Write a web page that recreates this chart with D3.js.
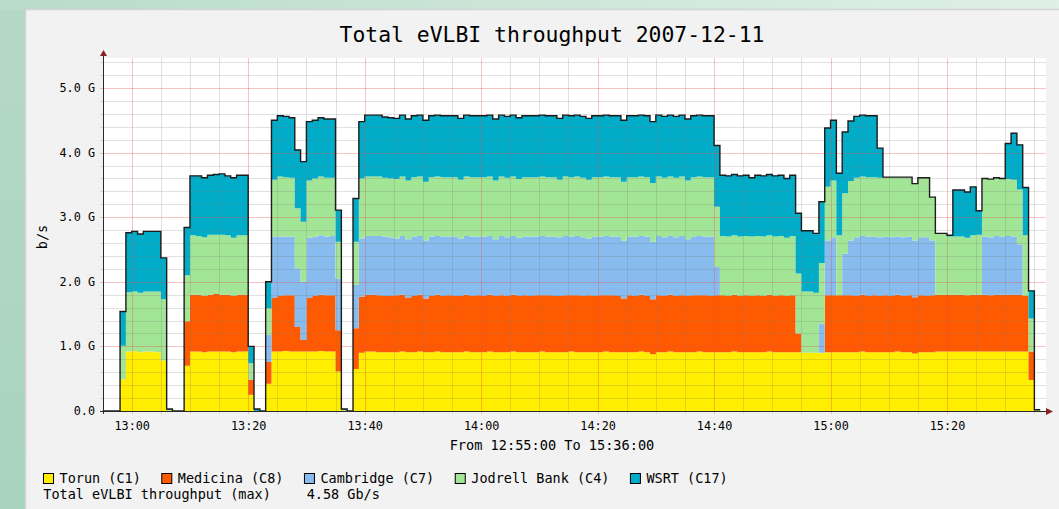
<!DOCTYPE html>
<html><head><meta charset="utf-8">
<script src="https://cdn.jsdelivr.net/npm/d3@7"></script>
<style>
html,body{margin:0;padding:0;background:#b7dcca;}
svg{display:block;}
text{font-family:"DejaVu Sans Mono",monospace;fill:#000;}
</style></head>
<body>
<svg id="chart" width="1059" height="509"></svg>
<script>
// ---- data (one value per minute, starting 12:55) ----
const startTime = new Date(2007, 11, 11, 12, 55);
const endTime = new Date(2007, 11, 11, 15, 36);
const seriesNames = ["Torun (C1)", "Medicina (C8)", "Cambridge (C7)", "Jodrell Bank (C4)", "WSRT (C17)"];
const seriesColors = ["#ffee00", "#ff5a00", "#88bbee", "#a2e596", "#00acc8"];
const yTickLabels = ["0.0", "1.0 G", "2.0 G", "3.0 G", "4.0 G", "5.0 G"];
const xTickLabels = ["13:00", "13:20", "13:40", "14:00", "14:20", "14:40", "15:00", "15:20"];

const torun = [
  0, 0, 0, .49, .92, .93, .91, .92, .92, .91,
  .78, .01, 0, 0, .70, .92, .92, .91, .92, .92,
  .92, .92, .91, .92, .92, .25, 0, 0, .42, .92,
  .92, .93, .92, .92, .92, .92, .92, .93, .92, .92,
  .61, .01, 0, .65, .90, .92, .92, .91, .91, .91,
  .91, .92, .91, .91, .92, .91, .91, .92, .91, .91,
  .91, .91, .92, .91, .91, .91, .92, .91, .91, .91,
  .92, .91, .91, .91, .91, .92, .91, .91, .91, .91,
  .92, .91, .91, .91, .91, .91, .92, .91, .91, .91,
  .91, .91, .92, .91, .88, .91, .91, .92, .91, .91,
  .91, .91, .92, .91, .91, .91, .91, .91, .92, .91,
  .91, .91, .91, .91, .92, .91, .91, .91, .91, .91,
  .90, .90, .90, .90, .91, .91, .91, .91, .91, .91,
  .92, .91, .91, .91, .91, .91, .92, .91, .91, .89,
  .91, .91, .91, .92, .92, .92, .92, .92, .92, .92,
  .92, .92, .92, .92, .92, .92, .92, .92, .92, .48,
  .01
];
const medicina = [
  0, 0, 0, 0, 0, 0, 0, 0, 0, 0,
  0, 0, 0, 0, .69, .88, .88, .87, .88, .89,
  .88, .88, .87, .88, .88, .23, 0, 0, .34, .83,
  .86, .86, .87, .38, .18, .83, .86, .87, .87, .87,
  .64, 0, 0, .63, .87, .88, .88, .88, .87, .87,
  .88, .88, .84, .87, .88, .83, .87, .88, .87, .88,
  .87, .87, .88, .87, .88, .87, .88, .87, .88, .87,
  .88, .87, .88, .87, .88, .87, .88, .87, .87, .88,
  .87, .88, .87, .88, .87, .88, .87, .88, .87, .83,
  .88, .87, .88, .87, .85, .88, .87, .88, .87, .88,
  .87, .88, .87, .88, .87, .88, .88, .87, .88, .87,
  .88, .87, .88, .87, .88, .87, .88, .87, .88, .29,
  0, 0, 0, 0, .88, .88, .88, .88, .88, .87,
  .88, .87, .88, .87, .88, .87, .88, .87, .88, .87,
  .88, .87, .88, .88, .88, .88, .88, .88, .87, .88,
  .88, .88, .87, .88, .88, .88, .88, .88, .86, .44,
  0
];
const cambridge = [
  0, 0, 0, 0, 0, 0, 0, 0, 0, 0,
  0, 0, 0, 0, 0, 0, 0, 0, 0, 0,
  0, 0, 0, 0, 0, 0, 0, 0, .42, .95,
  .92, .91, .91, .91, .90, .93, .92, .92, .91, .92,
  .80, 0, 0, .67, .90, .91, .91, .92, .92, .91,
  .88, .91, .91, .92, .91, .90, .92, .91, .92, .91,
  .92, .89, .91, .92, .91, .92, .91, .88, .92, .91,
  .91, .90, .91, .92, .91, .92, .91, .92, .91, .92,
  .91, .92, .91, .88, .92, .91, .92, .91, .92, .90,
  .91, .92, .91, .92, .89, .92, .91, .91, .91, .92,
  .88, .91, .92, .91, .92, .44, 0, 0, 0, 0,
  0, 0, 0, 0, 0, 0, 0, 0, 0, 0,
  0, 0, 0, .45, .85, .90, 0, .65, .85, .91,
  .91, .92, .91, .91, .91, .91, .90, .91, .91, .88,
  .90, .91, .85, 0, 0, 0, 0, 0, 0, 0,
  0, .90, .90, .91, .90, .91, .90, .78, 0, 0,
  0
];
const jodrell = [
  0, 0, 0, .52, .92, .92, .92, .93, .93, .94,
  .95, 0, 0, 0, .71, .92, .91, .91, .93, .92,
  .93, .92, .90, .92, .92, .26, 0, 0, .41, .88,
  .93, .92, .91, .93, .93, .89, .90, .91, .91, .90,
  .57, 0, 0, .67, .93, .92, .92, .92, .91, .91,
  .92, .92, .91, .92, .92, .91, .92, .92, .92, .92,
  .92, .91, .92, .92, .92, .92, .92, .91, .92, .92,
  .92, .91, .92, .92, .92, .92, .92, .92, .89, .92,
  .92, .92, .92, .91, .92, .92, .92, .92, .92, .91,
  .92, .92, .92, .92, .91, .92, .92, .92, .92, .92,
  .91, .92, .92, .92, .92, .93, .92, .92, .92, .92,
  .92, .92, .92, .92, .92, .92, .92, .90, .92, .93,
  .95, .95, .93, .94, .83, .88, .93, .93, .92, .92,
  .92, .92, .92, .92, .92, .93, .92, .93, .92, .88,
  .92, .92, .67, .95, .95, .90, .90, .90, .89, .92,
  .93, .90, .90, .90, .90, .88, .88, .85, .94, .51,
  0
];
const wsrt = [
  0, 0, 0, .53, .92, .93, .91, .93, .93, .93,
  .64, .02, 0, 0, .74, .92, .93, .92, .92, .93,
  .94, .92, .93, .93, .93, .26, .03, 0, .41, .92,
  .94, .94, .93, .90, .93, .91, .90, .91, .91, .91,
  .49, .02, 0, .67, .88, .95, .95, .95, .94, .94,
  .94, .95, .95, .95, .95, .95, .95, .95, .95, .95,
  .95, .95, .95, .95, .95, .95, .95, .95, .95, .95,
  .95, .95, .95, .95, .95, .95, .95, .95, .95, .95,
  .95, .95, .95, .95, .95, .95, .95, .95, .95, .95,
  .95, .95, .95, .95, .95, .95, .95, .95, .95, .95,
  .95, .95, .95, .95, .95, .95, .94, .94, .94, .94,
  .94, .91, .94, .94, .94, .94, .94, .92, .94, .93,
  .94, .94, .92, .95, .91, .93, .96, .95, .93, .95,
  .95, .95, .95, .46, 0, 0, 0, 0, 0, 0,
  0, 0, 0, 0, 0, .02, .72, .72, .71, .75,
  .37, 0, 0, 0, 0, .55, .72, .69, .74, .43,
  .01
];

// ---- build table ----
const seriesData = [torun, medicina, cambridge, jodrell, wsrt];
const rows = torun.map((_, i) => {
  const r = { t: d3.timeMinute.offset(startTime, i) };
  seriesNames.forEach((k, j) => r[k] = seriesData[j][i]);
  return r;
});
// closing row so the last step has width
const last = Object.assign({}, rows[rows.length - 1], { t: d3.timeMinute.offset(startTime, rows.length) });
rows.push(last);
rows.forEach(r => r.total = Math.round(d3.sum(seriesNames, k => r[k]) * 1000) / 1000);

const svg = d3.select("#chart");
const W = 1059, H = 509;

// ---- page & panel ----
const defs = svg.append("defs");
const g1 = defs.append("linearGradient").attr("id", "topstrip").attr("x1", 0).attr("x2", 1);
g1.append("stop").attr("offset", 0).attr("stop-color", "#b9dbc9");
g1.append("stop").attr("offset", 1).attr("stop-color", "#dff0e7");
const g2 = defs.append("linearGradient").attr("id", "leftstrip").attr("x1", 0).attr("x2", 0).attr("y1", 0).attr("y2", 1);
g2.append("stop").attr("offset", 0).attr("stop-color", "#b5d9c7");
g2.append("stop").attr("offset", 1).attr("stop-color", "#a8d3bf");
svg.append("rect").attr("x", 0).attr("y", 0).attr("width", W).attr("height", H).attr("fill", "url(#leftstrip)");
svg.append("rect").attr("x", 0).attr("y", 0).attr("width", W).attr("height", 10).attr("fill", "url(#topstrip)");
svg.append("rect").attr("x", 25.5).attr("y", 9.5).attr("width", W).attr("height", H)
  .attr("fill", "#f2f2f2").attr("stroke", "#d4d4d4").attr("stroke-width", 1.5);

// ---- scales ----
const x = d3.scaleTime().domain([startTime, endTime]).range([102.6, 1040.2]);
const y = d3.scaleLinear().domain([0, 5]).range([411, 88]);
const plotTop = 58, plotBottom = 411, plotLeft = 103, plotRight = 1046;

svg.append("rect").attr("x", plotLeft).attr("y", plotTop)
  .attr("width", plotRight - plotLeft).attr("height", plotBottom - plotTop).attr("fill", "#ffffff");

// ---- stacked areas ----
const stack = d3.stack().keys(seriesNames);
const layers = stack(rows);
const area = d3.area().curve(d3.curveStepAfter)
  .x(d => x(d.data.t)).y0(d => y(d[0])).y1(d => y(d[1]));
svg.append("g").selectAll("path").data(layers).join("path")
  .attr("d", area).attr("fill", (d, i) => seriesColors[i]);

// ---- grid (drawn over the data, like rrdtool) ----
const grid = svg.append("g");
const yMax = y.invert(plotTop);
const minorY = d3.range(0.2, yMax, 0.2).filter(v => Math.abs(v - Math.round(v)) > 0.01);
grid.selectAll(".hmin").data(minorY).join("line")
  .attr("x1", plotLeft - 3).attr("x2", plotRight)
  .attr("y1", d => Math.round(y(d)) + 0.5).attr("y2", d => Math.round(y(d)) + 0.5)
  .attr("stroke", "rgba(120,120,120,0.22)").attr("stroke-width", 1);
const minorX = d3.timeMinute.every(5).range(startTime, d3.timeMinute.offset(endTime, 1))
  .filter(t => t.getMinutes() % 20 !== 0 && t > startTime);
grid.selectAll(".vmin").data(minorX).join("line")
  .attr("y1", plotTop).attr("y2", plotBottom + 3)
  .attr("x1", d => Math.round(x(d)) + 0.5).attr("x2", d => Math.round(x(d)) + 0.5)
  .attr("stroke", "rgba(120,120,120,0.22)").attr("stroke-width", 1);
const majorX = d3.timeMinute.every(20).range(startTime, endTime);
grid.selectAll(".vmaj").data(majorX).join("line")
  .attr("y1", plotTop).attr("y2", plotBottom + 3)
  .attr("x1", d => Math.round(x(d)) + 0.5).attr("x2", d => Math.round(x(d)) + 0.5)
  .attr("stroke", "rgba(230,70,70,0.32)").attr("stroke-width", 1);
const majorY = d3.range(1, 6);
grid.selectAll(".hmaj").data(majorY).join("line")
  .attr("x1", plotLeft - 3).attr("x2", plotRight)
  .attr("y1", d => Math.round(y(d)) + 0.5).attr("y2", d => Math.round(y(d)) + 0.5)
  .attr("stroke", "rgba(230,70,70,0.32)").attr("stroke-width", 1);

// ---- total outline ----
const line = d3.line().curve(d3.curveStepAfter).x(d => x(d.t)).y(d => y(d.total));
svg.append("path").datum(rows).attr("d", line)
  .attr("fill", "none").attr("stroke", "#1c1c1c").attr("stroke-width", 1.4);

// ---- axes ----
svg.append("line").attr("x1", plotLeft - 3).attr("x2", plotRight).attr("y1", plotBottom + 0.5).attr("y2", plotBottom + 0.5)
  .attr("stroke", "#2a2a2a").attr("stroke-width", 1);
svg.append("line").attr("x1", plotLeft + 0.5).attr("x2", plotLeft + 0.5).attr("y1", plotBottom + 3).attr("y2", plotTop - 2)
  .attr("stroke", "#2a2a2a").attr("stroke-width", 1);
svg.append("path").attr("d", `M${plotLeft - 3},${plotTop - 2}L${plotLeft + 4},${plotTop - 2}L${plotLeft + 0.5},${plotTop - 8}Z`).attr("fill", "#8a2020");
svg.append("path").attr("d", `M${plotRight},${plotBottom - 3}L${plotRight},${plotBottom + 4}L${plotRight + 7},${plotBottom + 0.5}Z`).attr("fill", "#8a2020");

// y tick labels
svg.append("g").selectAll("text").data(yTickLabels).join("text")
  .attr("x", 95).attr("y", (d, i) => y(i) + 4)
  .attr("text-anchor", "end").attr("font-size", 11.8).text(d => d);
// x tick labels
svg.append("g").selectAll("text").data(xTickLabels).join("text")
  .attr("x", (d, i) => x(majorX[i]) + 0.5).attr("y", 430)
  .attr("text-anchor", "middle").attr("font-size", 11.8).text(d => d);

// titles
svg.append("text").attr("x", 552).attr("y", 41.5).attr("text-anchor", "middle")
  .attr("font-size", 21.4).text("Total eVLBI throughput 2007-12-11");
svg.append("text").attr("x", 552).attr("y", 449.5).attr("text-anchor", "middle")
  .attr("font-size", 13.6).text("From 12:55:00 To 15:36:00");
svg.append("text").attr("transform", "translate(46.5,237) rotate(-90)").attr("text-anchor", "middle")
  .attr("font-size", 13.6).text("b/s");

// ---- legend ----
const leg = svg.append("g");
let lx = 43;
seriesNames.forEach((name, i) => {
  leg.append("rect").attr("x", lx + 0.5).attr("y", 473.5).attr("width", 10).attr("height", 10)
    .attr("fill", seriesColors[i]).attr("stroke", "#000").attr("stroke-width", 1);
  const t = leg.append("text").attr("x", lx + 16.5).attr("y", 483).attr("font-size", 13.5).text(name);
  lx = lx + 16.5 + t.node().getComputedTextLength() + 20.5;
});
const maxTotal = d3.max(rows, r => r.total);
leg.append("text").attr("x", 43.3).attr("y", 499.3).attr("font-size", 13.5).text("Total eVLBI throughput (max)");
leg.append("text").attr("x", 306.7).attr("y", 499.3).attr("font-size", 13.5).text(d3.format(".2f")(maxTotal) + " Gb/s");
</script>
</body></html>
